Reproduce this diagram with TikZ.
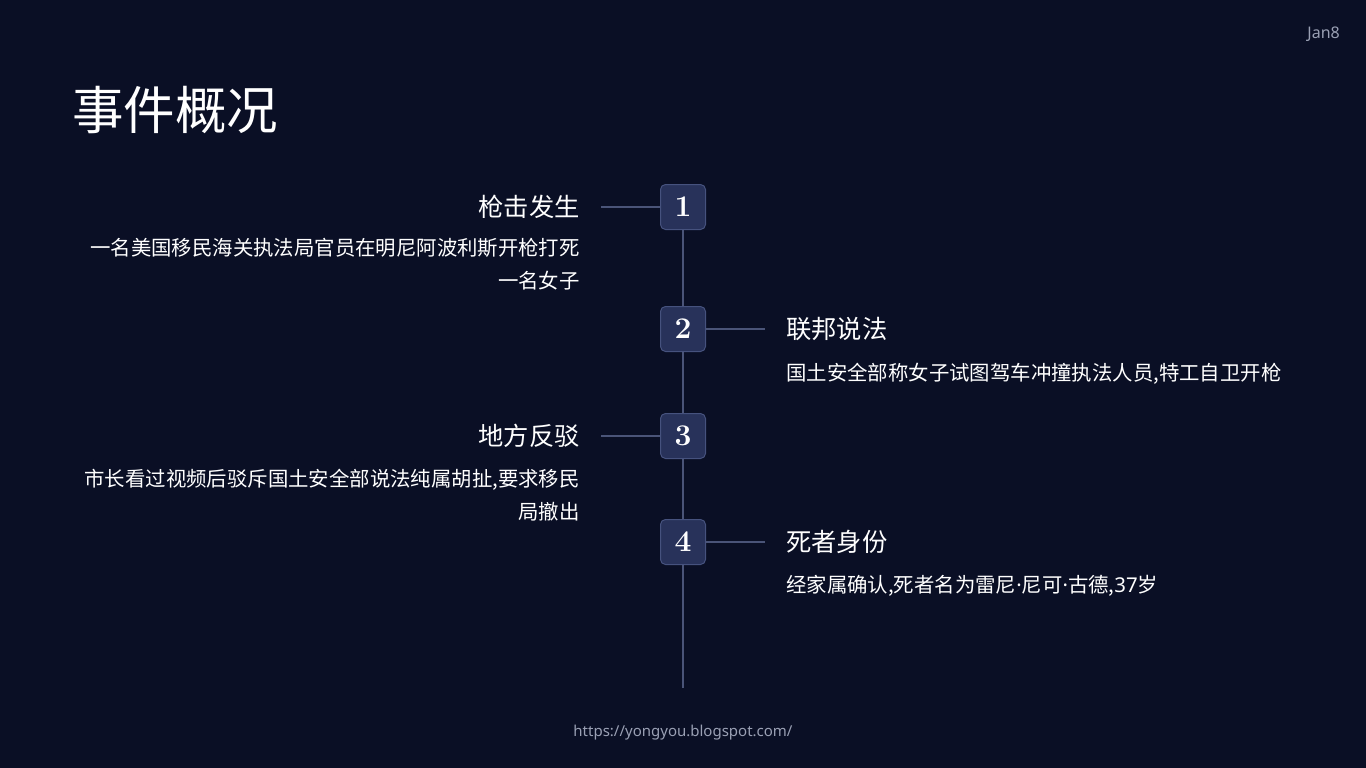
\documentclass[tikz,border=0pt]{standalone}
\usepackage{fontspec}
\setmainfont{Noto Sans CJK SC}
\newfontfamily\cjk{Noto Sans CJK SC}
\newfontfamily\latinsans{Noto Sans}
\newfontfamily\numfont{Latin Modern Roman}
\definecolor{bg}{HTML}{0A0F25}
\definecolor{boxfill}{HTML}{28325A}
\definecolor{boxline}{HTML}{46527E}
\definecolor{conn}{HTML}{4A5478}
\definecolor{softtext}{HTML}{9AA0B4}
\newcommand{\mdot}{{\latinsans ·}}
\tikzset{
  numbox/.style={draw=boxline, line width=1pt, fill=boxfill, rounded corners=5pt, minimum width=45pt, minimum height=45pt, inner sep=0pt, text=white, font=\numfont\fontsize{30}{30}\selectfont\bfseries},
  connline/.style={draw=conn, line width=1.6pt},
  ttl/.style={text=white, font=\cjk\fontsize{25.3}{25}\selectfont, inner sep=0pt},
  desc/.style={text=white, font=\cjk\fontsize{20.4}{33}\selectfont, inner sep=0pt}
}
\begin{document}
\begin{tikzpicture}[x=1pt,y=-1pt]
\fill[bg] (0,0) rectangle (1366,768);
\useasboundingbox (0,0) rectangle (1366,768);
\node[anchor=west, text=white, font=\cjk\fontsize{51.5}{51}\selectfont, inner sep=0pt] (title) at (72,110) {事件概况};
\node[anchor=east, text=softtext, font=\latinsans\fontsize{16}{16}\selectfont, inner sep=0pt] (date) at (1340,34) {Jan8};
\node[text=softtext, font=\latinsans\fontsize{15}{15}\selectfont, inner sep=0pt] (url) at (683,733) {https://yongyou.blogspot.com/};
\coordinate (lineend) at (683,688);
\node[numbox] (n1) at (683,207) {1};
\node[numbox] (n2) at (683,329) {2};
\node[numbox] (n3) at (683,436) {3};
\node[numbox] (n4) at (683,542) {4};
\draw[connline] (n1.south) -- (n2.north);
\draw[connline] (n2.south) -- (n3.north);
\draw[connline] (n3.south) -- (n4.north);
\draw[connline] (n4.south) -- (lineend);
\coordinate (c1) at (601,207);
\coordinate (c2) at (765,329);
\coordinate (c3) at (601,436);
\coordinate (c4) at (765,542);
\draw[connline] (n1.west) -- (c1);
\draw[connline] (n2.east) -- (c2);
\draw[connline] (n3.west) -- (c3);
\draw[connline] (n4.east) -- (c4);
\node[ttl, anchor=east] (t1) at (580,207) {枪击发生};
\node[desc, anchor=north east, align=right] (d1) at (580,238) {一名美国移民海关执法局官员在明尼阿波利斯开枪打死\\一名女子};
\node[ttl, anchor=west] (t2) at (786,329) {联邦说法};
\node[desc, anchor=north west, align=left] (d2) at (786,363) {国土安全部称女子试图驾车冲撞执法人员,特工自卫开枪};
\node[ttl, anchor=east] (t3) at (580,436) {地方反驳};
\node[desc, anchor=north east, align=right] (d3) at (580,469) {市长看过视频后驳斥国土安全部说法纯属胡扯,要求移民\\局撤出};
\node[ttl, anchor=west] (t4) at (786,542) {死者身份};
\node[desc, anchor=north west, align=left] (d4) at (786,575) {经家属确认,死者名为雷尼\mdot 尼可\mdot 古德,{\latinsans 37}岁};
\end{tikzpicture}
\end{document}
